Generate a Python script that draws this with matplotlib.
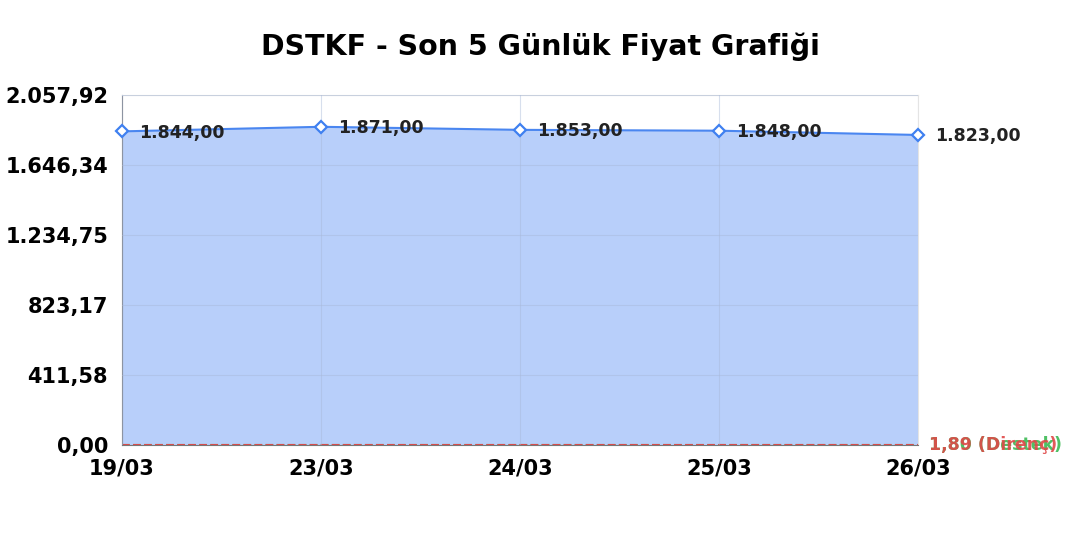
import numpy as np
import matplotlib.pyplot as plt
from matplotlib.ticker import FixedLocator, FuncFormatter

dates = ["19/03", "23/03", "24/03", "25/03", "26/03"]
prices = [1844.00, 1871.00, 1853.00, 1848.00, 1823.00]
support = 1.80
resistance = 1.89
y_max = 2057.92


def tr_fmt(v, decimals=2):
    s = f"{v:,.{decimals}f}"
    return s.replace(",", "X").replace(".", ",").replace("X", ".")


fig = plt.figure(figsize=(10.8, 5.4), dpi=100)
ax = fig.add_axes([122 / 1080, 1 - 445 / 540, (918 - 122) / 1080, (445 - 95) / 540])

x = np.arange(len(dates))
ax.fill_between(x, prices, 0, color="#b8cffa", zorder=1)
ax.plot(x, prices, color="#4a86f0", lw=1.5, zorder=3)
ax.plot(x, prices, ls="none", marker="D", ms=6.5, mfc="white", mec="#3f80f0", mew=1.6,
        zorder=4, clip_on=False)

for xi, p in zip(x, prices):
    ax.annotate(tr_fmt(p), (xi, p), xytext=(12, -1), textcoords="offset points",
                ha="left", va="center", fontsize=12.5, fontweight="bold", color="#222222", zorder=5)

ax.axhline(support, color="#3cba54", ls="--", lw=1.5, zorder=2)
ax.axhline(resistance, color="#e04848", ls="--", lw=1.5, zorder=2)
ax.annotate(f"{tr_fmt(support)} (Destek)", (1.0, support), xycoords=("axes fraction", "data"),
            xytext=(8, 0), textcoords="offset points", va="center", ha="left",
            fontsize=12.5, fontweight="bold", color="#3cba54", alpha=0.9)
ax.annotate(f"{tr_fmt(resistance)} (Direnç)", (1.0, resistance), xycoords=("axes fraction", "data"),
            xytext=(8, 0), textcoords="offset points", va="center", ha="left",
            fontsize=12.5, fontweight="bold", color="#e04848", alpha=0.9)

ax.set_xlim(0, len(dates) - 1)
ax.set_ylim(0, y_max)
ax.set_xticks(x)
ax.set_xticklabels(dates)
ax.yaxis.set_major_locator(FixedLocator(np.linspace(0, y_max, 6)))
ax.yaxis.set_major_formatter(FuncFormatter(lambda v, _: tr_fmt(v)))
ax.tick_params(axis="both", length=0, labelsize=15)
ax.tick_params(axis="x", pad=10)
ax.tick_params(axis="y", pad=10)
for lbl in ax.get_xticklabels() + ax.get_yticklabels():
    lbl.set_fontweight("bold")

ax.set_axisbelow(False)
ax.grid(True, color="#a8b8d8", lw=0.8, alpha=0.45, zorder=1.5)
ax.spines["top"].set_color("#e4e4e4")
ax.spines["right"].set_color("#e4e4e4")
ax.spines["left"].set_color("#777777")
ax.spines["bottom"].set_color("#777777")

fig.suptitle("DSTKF - Son 5 Günlük Fiyat Grafiği", y=0.94, fontsize=20.5, fontweight="bold")

fig.savefig("out.png", dpi=100)
